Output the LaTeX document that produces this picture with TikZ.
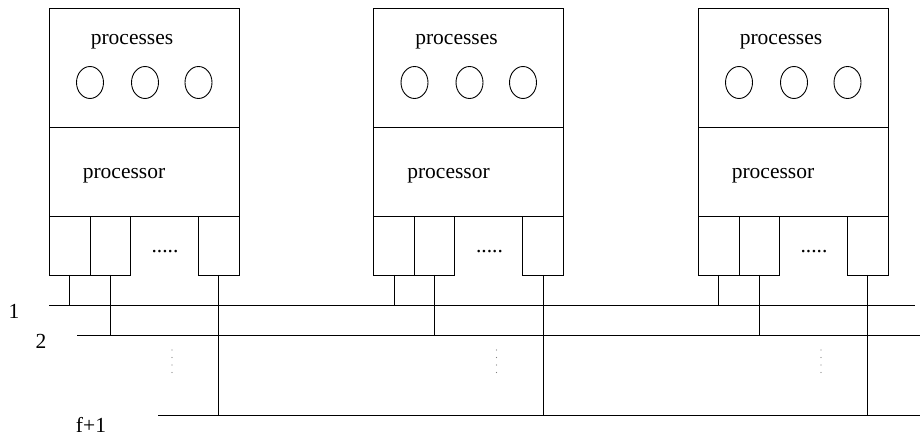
\documentclass[tikz,border=0pt]{standalone}
\usepackage{fontspec}
\setmainfont{Liberation Serif}
\usetikzlibrary{shapes.geometric}
\begin{document}
\begin{tikzpicture}[x=1pt,y=-1pt,
  every node/.style={font=\fontsize{21.5}{26}\selectfont},
  sect/.style={draw, line width=0.9pt, minimum width=190pt, inner sep=0pt, outer sep=0pt, anchor=north west},
  port/.style={draw, line width=0.9pt, inner sep=0pt, outer sep=0pt, anchor=north west, minimum height=59pt},
  proc/.style={draw, line width=0.9pt, ellipse, minimum width=27pt, minimum height=32pt, inner sep=0pt},
  wire/.style={line width=0.9pt},
  vdot/.style={fill=gray, draw=none, minimum size=1.4pt, inner sep=0pt, circle},
  lbl/.style={inner sep=0pt, anchor=base}]
\useasboundingbox (0,0) rectangle (920,435);
% bus lines
\coordinate (b1s) at (49,305);  \coordinate (b1e) at (915,305);
\coordinate (b2s) at (77,335);  \coordinate (b2e) at (920,335);
\coordinate (b3s) at (158,415); \coordinate (b3e) at (920,415);
\draw[wire] (b1s) -- (b1e);
\draw[wire] (b2s) -- (b2e);
\draw[wire] (b3s) -- (b3e);
\node[lbl] (l1) at (14,318) {1};
\node[lbl] (l2) at (41,348) {2};
\node[lbl] (l3) at (91,432) {f+1};
\foreach \i/\L in {1/49,2/373.5,3/698}{
  \node[sect, minimum height=119pt] (top\i) at (\L,8) {};
  \node[sect, minimum height=89pt] (mid\i) at (\L,127) {};
  \node[port, minimum width=41pt] (pa\i) at (\L,216) {};
  \node[port, minimum width=40pt] (pb\i) at (\L+41,216) {};
  \node[port, minimum width=41pt] (pc\i) at (\L+149,216) {};
  \node[lbl] (tp\i) at (\L+83,45) {processes};
  \node[lbl] (tq\i) at (\L+75,179) {processor};
  \node[lbl] (td\i) at (\L+116,253) {.....};
  \node[proc] (c1\i) at (\L+41,82.5) {};
  \node[proc] (c2\i) at (\L+96,82.5) {};
  \node[proc] (c3\i) at (\L+149.5,82.5) {};
  \draw[wire] (pa\i.south) -- (pa\i.south |- b1s);
  \draw[wire] (pb\i.south) -- (pb\i.south |- b2s);
  \draw[wire] (pc\i.south) -- (pc\i.south |- b3s);
  \foreach \k/\y in {a/350,b/357.5,c/365,d/372.5}{
    \node[vdot] (vd\i\k) at (\L+123,\y) {};
  }
}
\end{tikzpicture}
\end{document}
